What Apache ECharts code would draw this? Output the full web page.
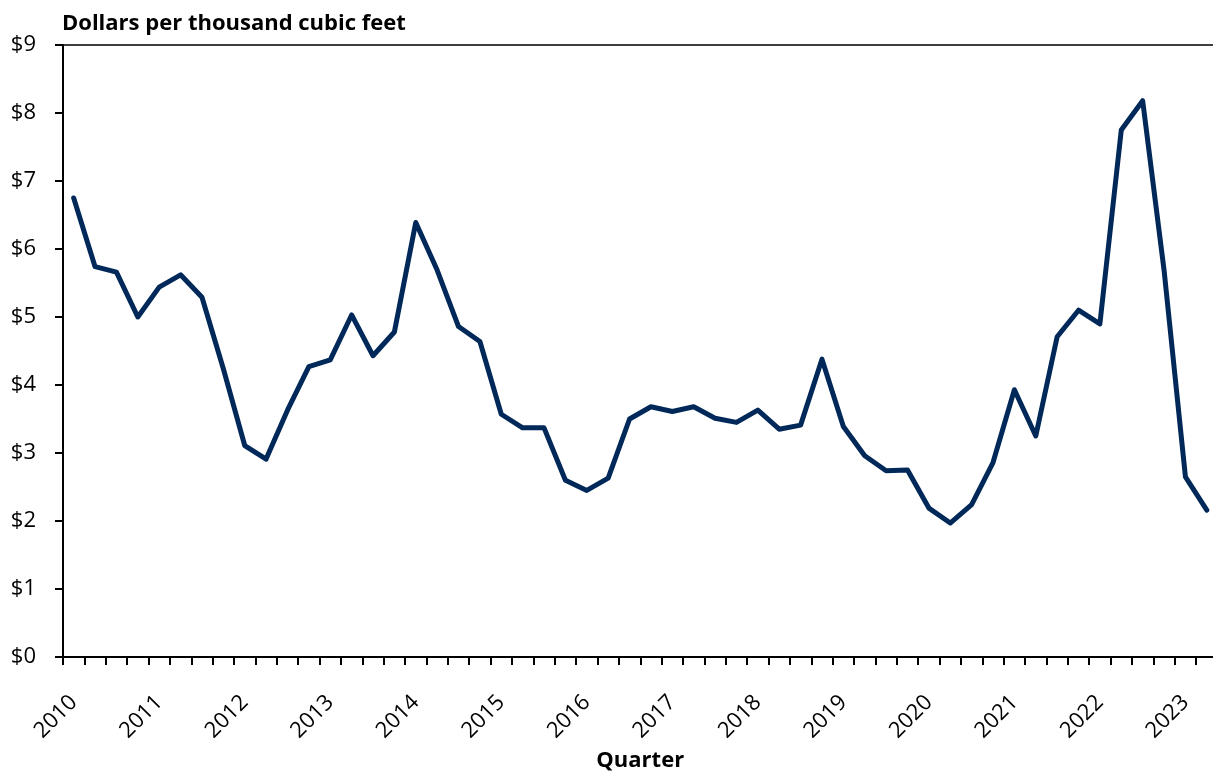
<!DOCTYPE html>
<html>
<head>
<meta charset="utf-8">
<script src="https://cdn.jsdelivr.net/npm/echarts@6/dist/echarts.min.js"></script>
<style>
html,body{margin:0;padding:0;background:#fff;}
#chart{width:1213px;height:772px;}
</style>
</head>
<body>
<div id="chart"></div>
<script>
const years = [2010,2011,2012,2013,2014,2015,2016,2017,2018,2019,2020,2021,2022,2023];
const quarters = [];
years.forEach(function(y){ for (let q=1;q<=4;q++){ if (y===2023 && q>2) break; quarters.push(y+' Q'+q); } });

const prices = [
  6.75, 5.74, 5.66, 5.00, 5.44, 5.62, 5.29, 4.24,
  3.11, 2.91, 3.63, 4.27, 4.37, 5.03, 4.43, 4.78,
  6.39, 5.69, 4.86, 4.64, 3.57, 3.37, 3.37, 2.60,
  2.45, 2.63, 3.50, 3.68, 3.61, 3.68, 3.51, 3.45,
  3.63, 3.35, 3.41, 4.38, 3.39, 2.96, 2.74, 2.75,
  2.19, 1.97, 2.24, 2.86, 3.93, 3.25, 4.71, 5.10,
  4.90, 7.75, 8.18, 5.69, 2.65, 2.16
];

const yTicks = [0,1,2,3,4,5,6,7,8,9];
const yTitle = 'Dollars per thousand cubic feet';
const xTitle = 'Quarter';

const FONT = '"Open Sans", Lato, sans-serif';
const chart = echarts.init(document.getElementById('chart'), null, {renderer:'canvas'});
chart.setOption({
  animation: false,
  backgroundColor: '#fff',
  title: {
    text: yTitle,
    left: 57, top: 8,
    textStyle: {fontFamily: FONT, fontWeight: 'bold', fontSize: 22, color: '#000'}
  },
  grid: {left: 63, right: -4.5, top: 45, bottom: 115, containLabel: false, outerBoundsMode: 'none'},
  xAxis: [{
    type: 'category',
    data: quarters,
    boundaryGap: true,
    position: 'bottom',
    axisLine: {show: true, lineStyle: {color: '#000', width: 2}},
    axisTick: {show: true, interval: 0, length: 8, lineStyle: {color: '#000', width: 2}},
    axisLabel: {
      interval: 3,
      rotate: 45,
      margin: 42,
      fontFamily: FONT, fontSize: 22, color: '#000',
      formatter: function(v){ return v.split(' ')[0]; }
    },
    name: xTitle,
    nameLocation: 'middle',
    nameGap: 93,
    nameMoveOverlap: false,
    nameTextStyle: {fontFamily: FONT, fontWeight: 'bold', fontSize: 22, color: '#000'},
    splitLine: {show: false}
  },{
    type: 'category',
    data: quarters,
    position: 'top',
    axisLine: {show: true, lineStyle: {color: '#000', width: 1.5}},
    axisTick: {show: false},
    axisLabel: {show: false},
    splitLine: {show: false}
  }],
  yAxis: {
    type: 'value',
    min: yTicks[0], max: yTicks[yTicks.length-1], interval: 1,
    axisLine: {show: true, lineStyle: {color: '#000', width: 2}},
    axisTick: {show: true, length: 8, lineStyle: {color: '#000', width: 2}},
    axisLabel: {
      margin: 27,
      fontFamily: FONT, fontSize: 22, color: '#000',
      formatter: function(v){ return '$' + v; }
    },
    splitLine: {show: false}
  },
  series: [{
    type: 'line',
    data: prices,
    xAxisIndex: 0,
    symbol: 'none',
    lineStyle: {color: '#00295A', width: 5, join: 'round', cap: 'round'},
    itemStyle: {color: '#00295A'}
  }]
});
</script>
</body>
</html>
